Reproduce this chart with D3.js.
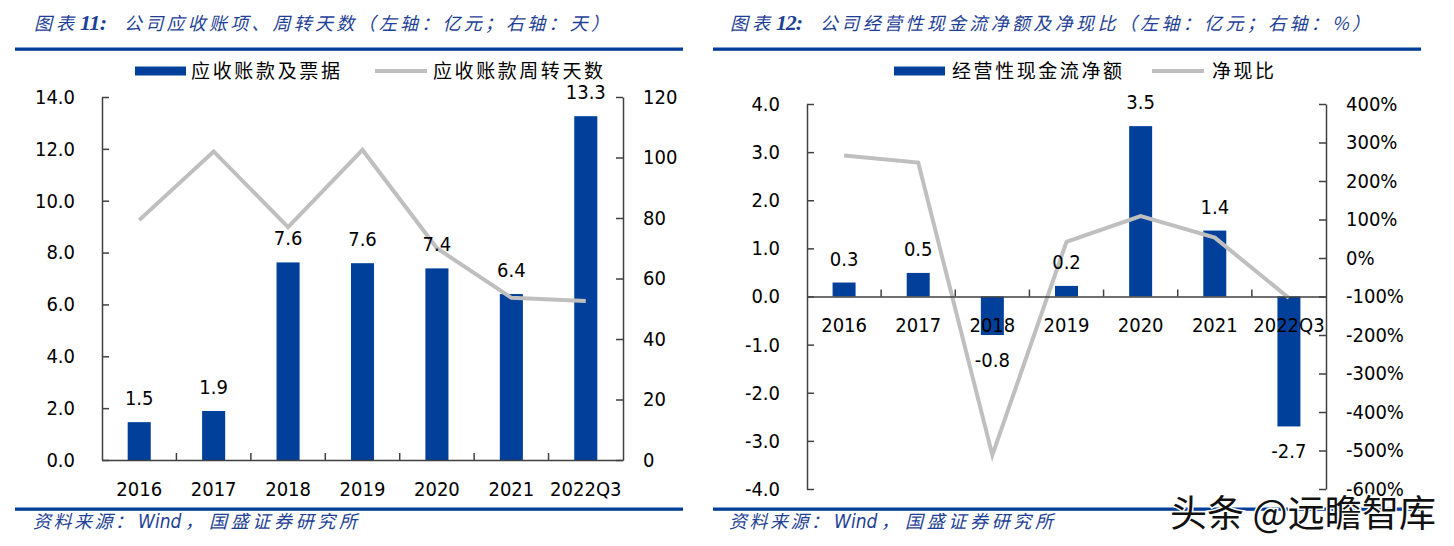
<!DOCTYPE html>
<html>
<head>
<meta charset="utf-8">
<script src="https://cdn.jsdelivr.net/npm/d3@7"></script>
<style>
  html, body { margin: 0; padding: 0; background: #fff; }
  svg { display: block; }
  .num { font-family: "DejaVu Sans Condensed", "DejaVu Sans", sans-serif; font-size: 20px; fill: #000; }
  .cjk { font-family: "Noto Sans CJK SC", sans-serif; }
</style>
</head>
<body>
<svg id="chart" width="1454" height="546"></svg>
<script>
// ---------------- data ----------------
const categories = ["2016", "2017", "2018", "2019", "2020", "2021", "2022Q3"];

// Chart 11
const receivables = [1.46, 1.89, 7.62, 7.59, 7.39, 6.40, 13.26];      // 亿元
const turnoverDays = [79.3, 102.0, 77.0, 102.5, 70.0, 53.6, 52.6];     // 天
const leftTicks1 = [0, 2, 4, 6, 8, 10, 12, 14];
const rightTicks1 = [0, 20, 40, 60, 80, 100, 120];

// Chart 12
const opCashFlow = [0.29, 0.49, -0.80, 0.22, 3.54, 1.37, -2.70];       // 亿元
const cashRatio = [266, 248, -512, 42, 109, 53, -104];                 // %
const leftTicks2 = [-4, -3, -2, -1, 0, 1, 2, 3, 4];
const rightTicks2 = [-600, -500, -400, -300, -200, -100, 0, 100, 200, 300, 400];

const titlePrefix = "图表";
const titleNum1 = "11:";
const titleRest1 = "公司应收账项、周转天数（左轴：亿元；右轴：天）";
const titleNum2 = "12:";
const titleRest2 = "公司经营性现金流净额及净现比（左轴：亿元；右轴：%）";
const legend1 = ["应收账款及票据", "应收账款周转天数"];
const legend2 = ["经营性现金流净额", "净现比"];
const sourceParts = ["资料来源：", "Wind", "，", "国盛证券研究所"];
const watermark = "头条 @远瞻智库";

// ---------------- style ----------------
const BLUE = "#00409A";
const TITLE_BLUE = "#1E3F96";
const RULE_BLUE = "#003E97";
const GRAY = "#BFBFBF";
const AXIS = "#404040";

const svg = d3.select("#chart");

// ---------------- frames (titles, rules, legends, footers) ----------------
function frame(cfg) {
  const g = svg.append("g");
  // title
  const t = g.append("text").attr("y", 30).attr("fill", TITLE_BLUE).attr("font-style", "italic");
  t.append("tspan").attr("class", "cjk").attr("font-size", 18)
    .attr("x", cfg.tx).attr("textLength", 40).attr("lengthAdjust", "spacing").text(titlePrefix);
  t.append("tspan").attr("font-family", "Liberation Serif, serif").attr("font-weight", "bold")
    .attr("font-size", 22).attr("x", cfg.tx + 46)
    .attr("textLength", 27).attr("lengthAdjust", "spacing").text(cfg.num);
  t.append("tspan").attr("class", "cjk").attr("font-size", 18)
    .attr("x", cfg.restX).attr("textLength", cfg.restLen).attr("lengthAdjust", "spacing").text(cfg.rest);

  // rules
  g.append("rect").attr("x", cfg.ruleX0).attr("y", 47.5)
    .attr("width", cfg.ruleX1 - cfg.ruleX0).attr("height", 3.3).attr("fill", RULE_BLUE);
  g.append("rect").attr("x", cfg.ruleX0).attr("y", 507.5)
    .attr("width", cfg.ruleX1 - cfg.ruleX0).attr("height", 3.3).attr("fill", RULE_BLUE);

  // source footer
  const s = g.append("text").attr("y", 528).attr("fill", TITLE_BLUE).attr("font-style", "italic");
  const sx = cfg.sx;
  s.append("tspan").attr("class", "cjk").attr("font-size", 18).attr("x", sx)
    .attr("textLength", 100).attr("lengthAdjust", "spacing").text(sourceParts[0]);
  s.append("tspan").attr("font-family", "DejaVu Sans Condensed, sans-serif").attr("font-size", 19)
    .attr("x", sx + 105).text(sourceParts[1]);
  s.append("tspan").attr("class", "cjk").attr("font-size", 18).attr("x", sx + 152).text(sourceParts[2]);
  s.append("tspan").attr("class", "cjk").attr("font-size", 18).attr("x", sx + 176)
    .attr("textLength", 148).attr("lengthAdjust", "spacing").text(sourceParts[3]);

  // legend
  const L = cfg.legend;
  g.append("rect").attr("x", L.rectX).attr("y", 66.5).attr("width", 51).attr("height", 9).attr("fill", BLUE);
  g.append("text").attr("class", "cjk").attr("x", L.t1X).attr("y", 78)
    .attr("font-size", 19).attr("fill", "#000")
    .attr("textLength", L.t1Len).attr("lengthAdjust", "spacing").text(L.names[0]);
  g.append("line").attr("x1", L.lineX).attr("x2", L.lineX + 52).attr("y1", 71).attr("y2", 71)
    .attr("stroke", GRAY).attr("stroke-width", 4);
  g.append("text").attr("class", "cjk").attr("x", L.t2X).attr("y", 78)
    .attr("font-size", 19).attr("fill", "#000")
    .attr("textLength", L.t2Len).attr("lengthAdjust", "spacing").text(L.names[1]);
}

frame({
  tx: 34, num: titleNum1, rest: titleRest1, restX: 124, restLen: 485,
  ruleX0: 15, ruleX1: 683, sx: 33,
  legend: { names: legend1, rectX: 135, t1X: 191, t1Len: 149, lineX: 375, t2X: 433, t2Len: 170 }
});
frame({
  tx: 730, num: titleNum2, rest: titleRest2, restX: 820, restLen: 550,
  ruleX0: 713, ruleX1: 1421, sx: 729,
  legend: { names: legend2, rectX: 894, t1X: 952, t1Len: 170, lineX: 1152, t2X: 1212, t2Len: 62 }
});

// ---------------- chart helpers ----------------
function styleAxis(sel) {
  sel.select(".domain").attr("stroke", AXIS).attr("stroke-width", 1.5);
  sel.selectAll(".tick line").attr("stroke", AXIS).attr("stroke-width", 1.5);
  sel.selectAll(".tick text").attr("class", "num").attr("fill", "#000");
}

function drawChart(cfg) {
  const g = svg.append("g");
  const x = d3.scaleBand().domain(categories).range([cfg.x0, cfg.x1]).padding(0);
  const y = d3.scaleLinear().domain(cfg.yDomain).range([cfg.yBottom, cfg.yTop]);
  const y2 = d3.scaleLinear().domain(cfg.y2Domain).range([cfg.yBottom, cfg.yTop]);
  const bw = x.bandwidth() * 0.31;

  // bars
  g.selectAll("rect.bar").data(cfg.bars).join("rect").attr("class", "bar")
    .attr("x", (d, i) => x(categories[i]) + x.bandwidth() / 2 - bw / 2)
    .attr("width", bw)
    .attr("y", d => y(Math.max(0, d)))
    .attr("height", d => Math.abs(y(d) - y(0)))
    .attr("fill", BLUE);

  // left axis
  const axL = g.append("g").attr("transform", `translate(${cfg.x0},0)`)
    .call(d3.axisLeft(y).tickValues(cfg.leftTicks).tickSize(-7).tickSizeOuter(0)
      .tickPadding(27).tickFormat(d3.format(".1f")));
  styleAxis(axL);

  // right axis
  const axR = g.append("g").attr("transform", `translate(${cfg.x1},0)`)
    .call(d3.axisRight(y2).tickValues(cfg.rightTicks).tickSize(-7).tickSizeOuter(0)
      .tickPadding(20).tickFormat(cfg.rightFormat));
  styleAxis(axR);

  // bottom axis (category labels) at zero
  const zeroY = y(0);
  const axB = g.append("g").attr("transform", `translate(0,${zeroY})`)
    .call(d3.axisBottom(x).tickSize(0).tickSizeOuter(0).tickPadding(cfg.labelPad));
  styleAxis(axB);
  // category boundary ticks (pointing up)
  g.selectAll("line.sep").data(categories.slice(1)).join("line").attr("class", "sep")
    .attr("x1", d => x(d)).attr("x2", d => x(d))
    .attr("y1", zeroY).attr("y2", zeroY - 7)
    .attr("stroke", AXIS).attr("stroke-width", 1.5);

  // line series
  const line = d3.line()
    .x((d, i) => x(categories[i]) + x.bandwidth() / 2)
    .y(d => y2(d));
  g.append("path").datum(cfg.lineData).attr("d", line)
    .attr("fill", "none").attr("stroke", GRAY).attr("stroke-width", 4)
    .attr("stroke-linejoin", "miter");

  axB.raise();

  // data labels
  g.selectAll("text.dl").data(cfg.bars).join("text").attr("class", "num dl")
    .attr("text-anchor", "middle")
    .attr("x", (d, i) => x(categories[i]) + x.bandwidth() / 2)
    .attr("y", d => d >= 0 ? y(d) - 24 : y(d) + 25)
    .attr("dy", "0.35em")
    .text(d => d3.format(".1f")(d));
}

drawChart({
  x0: 102, x1: 623, yTop: 97, yBottom: 460,
  yDomain: [0, 14], y2Domain: [0, 120],
  bars: receivables, lineData: turnoverDays,
  leftTicks: leftTicks1, rightTicks: rightTicks1,
  rightFormat: d => String(d), labelPad: 22
});

drawChart({
  x0: 807, x1: 1326, yTop: 104, yBottom: 489,
  yDomain: [-4, 4], y2Domain: [-600, 400],
  bars: opCashFlow, lineData: cashRatio,
  leftTicks: leftTicks2, rightTicks: rightTicks2,
  rightFormat: d => d + "%", labelPad: 21.5
});

// plain hyphen minus signs like the reference
svg.selectAll("text.num").each(function () {
  const t = d3.select(this);
  t.text(t.text().replace(/\u2212/g, "-"));
});

// watermark
svg.append("text").attr("class", "cjk")
  .attr("x", 1170).attr("y", 527)
  .attr("font-size", 37)
  .attr("fill", "#111").attr("stroke", "#fff").attr("stroke-width", 3)
  .attr("paint-order", "stroke")
  .attr("textLength", 266).attr("lengthAdjust", "spacing")
  .text(watermark);
</script>
</body>
</html>
